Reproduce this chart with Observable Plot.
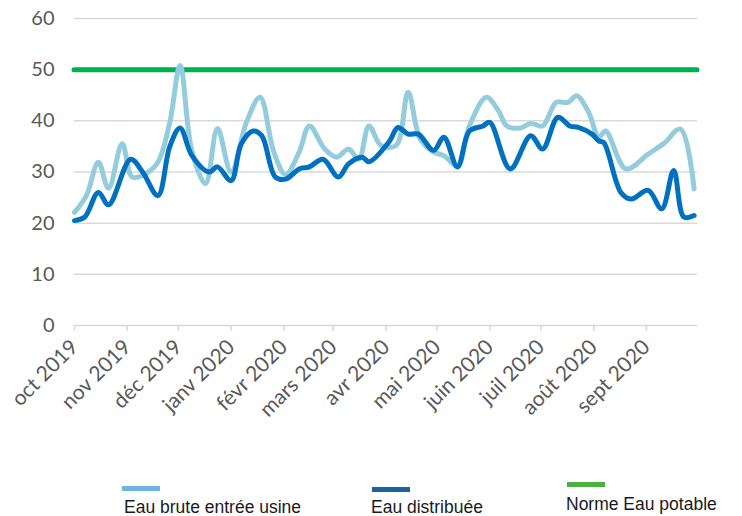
<!DOCTYPE html>
<html>
<head>
<meta charset="utf-8">
<script src="https://cdn.jsdelivr.net/npm/d3@7"></script>
<script src="https://cdn.jsdelivr.net/npm/@observablehq/plot@0.6"></script>
<style>
  html, body { margin: 0; padding: 0; background: #fff; }
  #wrap { position: relative; width: 742px; height: 516px; overflow: hidden; }
  .sw { position: absolute; height: 5px; width: 38px; }
  .lt { position: absolute; font-family: "Liberation Sans", Arial, sans-serif; font-size: 17.5px; color: #1a1a1a; white-space: nowrap; }
</style>
</head>
<body>
<div id="wrap"></div>
<script>
// Month tick labels (French)
const tickLabels = ["oct 2019", "nov 2019", "déc 2019", "janv 2020", "févr 2020", "mars 2020",
  "avr 2020", "mai 2020", "juin 2020", "juil 2020", "août 2020", "sept 2020"];
const tickDates = ["2019-10-01", "2019-11-01", "2019-12-01", "2020-01-01", "2020-02-01", "2020-03-01",
  "2020-04-01", "2020-05-01", "2020-06-01", "2020-07-01", "2020-08-01", "2020-09-01"];

// Eau brute entrée usine
const bruteDates = ["2019-10-01", "2019-10-08", "2019-10-15", "2019-10-21", "2019-10-29", "2019-11-04",
  "2019-11-12", "2019-11-19", "2019-11-26", "2019-12-02", "2019-12-09", "2019-12-17", "2019-12-24",
  "2020-01-01", "2020-01-10", "2020-01-18", "2020-01-26", "2020-02-02", "2020-02-10", "2020-02-16",
  "2020-02-25", "2020-03-03", "2020-03-10", "2020-03-16", "2020-03-22", "2020-03-29", "2020-04-07",
  "2020-04-14", "2020-04-21", "2020-04-29", "2020-05-05", "2020-05-13", "2020-05-20", "2020-05-30",
  "2020-06-06", "2020-06-11", "2020-06-19", "2020-06-25", "2020-07-02", "2020-07-10", "2020-07-17",
  "2020-07-22", "2020-07-29", "2020-08-04", "2020-08-08", "2020-08-20", "2020-09-02", "2020-09-11",
  "2020-09-21", "2020-09-29"];
const bruteValues = [22.1, 25.4, 31.9, 26.8, 35.5, 29.0,
  29.7, 31.9, 39.7, 50.8, 34.0, 27.7, 38.5,
  30.0, 39.7, 44.6, 34.0, 29.5, 33.9, 39.0,
  34.5, 32.9, 34.5, 32.5, 39.0, 35.2, 35.2,
  45.6, 36.5, 33.9, 33.2, 31.2, 39.0, 44.6,
  42.0, 39.0, 38.6, 39.5, 39.0, 43.6, 43.6,
  44.9, 41.7, 36.8, 38.0, 30.6, 33.5, 35.5,
  38.4, 26.7];

// Eau distribuée
const distDates = ["2019-10-01", "2019-10-07", "2019-10-15", "2019-10-21", "2019-11-03", "2019-11-10",
  "2019-11-19", "2019-11-26", "2019-12-02", "2019-12-09", "2019-12-19", "2019-12-24", "2020-01-01",
  "2020-01-07", "2020-01-14", "2020-01-19", "2020-01-27", "2020-02-02", "2020-02-10", "2020-02-16",
  "2020-02-24", "2020-03-04", "2020-03-10", "2020-03-18", "2020-03-22", "2020-04-03", "2020-04-08",
  "2020-04-14", "2020-04-20", "2020-04-29", "2020-05-05", "2020-05-13", "2020-05-20", "2020-05-28",
  "2020-06-01", "2020-06-13", "2020-06-25", "2020-07-02", "2020-07-11", "2020-07-18", "2020-07-23",
  "2020-07-31", "2020-08-04", "2020-08-07", "2020-08-17", "2020-08-23", "2020-09-02", "2020-09-10",
  "2020-09-17", "2020-09-23", "2020-09-29"];
const distValues = [20.5, 21.2, 26.0, 23.6, 32.5, 30.0,
  25.4, 35.0, 38.6, 33.2, 30.0, 31.0, 28.3,
  35.5, 38.0, 37.1, 29.0, 28.6, 30.6, 31.0,
  32.5, 29.0, 31.6, 32.9, 32.0, 36.0, 38.7,
  37.4, 37.4, 34.2, 36.8, 31.0, 38.0, 39.0,
  39.7, 30.6, 37.1, 34.5, 40.7, 39.0, 38.7,
  37.4, 36.1, 35.7, 26.0, 24.7, 26.4, 22.8,
  30.3, 21.2, 21.5];

// Norme Eau potable
const norme = 50;

const yTicks = [0, 10, 20, 30, 40, 50, 60];

const brute = bruteDates.map((d, i) => ({date: new Date(d), value: bruteValues[i]}));
const dist = distDates.map((d, i) => ({date: new Date(d), value: distValues[i]}));

const chart = Plot.plot({
  width: 742,
  height: 445,
  marginLeft: 74,
  marginRight: 45,
  marginTop: 18,
  marginBottom: 120,
  style: {fontFamily: "Lato, sans-serif", fontSize: "20px", color: "#595959", background: "white"},
  x: {type: "utc", domain: [new Date("2019-10-01"), new Date("2020-10-01")]},
  y: {domain: [0, 60]},
  marks: [
    Plot.gridY(yTicks.slice(1), {stroke: "#d9d9d9", strokeOpacity: 1, strokeWidth: 1.5}),
    Plot.ruleY([0], {stroke: "#d9d9d9", strokeWidth: 1.5}),
    Plot.axisY({ticks: yTicks, tickSize: 0, tickPadding: 20, label: null, fill: "#595959", fontSize: 20}),
    Plot.axisX({
      ticks: tickDates.map(d => new Date(d)),
      tickFormat: d => tickLabels[(d.getUTCMonth() + 3) % 12],
      tickRotate: -45, tickSize: 6, tickPadding: 12, stroke: "#d9d9d9", strokeWidth: 1.5,
      fill: "#595959", label: null, fontSize: 21
    }),
    Plot.ruleY([norme], {stroke: "#00b050", strokeWidth: 5, strokeLinecap: "round"}),
    Plot.line(brute, {x: "date", y: "value", stroke: "#93cddd", strokeWidth: 5, curve: "catmull-rom", strokeLinejoin: "round"}),
    Plot.line(dist, {x: "date", y: "value", stroke: "#0070c0", strokeWidth: 5, curve: "catmull-rom", strokeLinejoin: "round"})
  ]
});

const wrap = document.getElementById("wrap");
wrap.appendChild(chart);

const legend = [
  {label: "Eau brute entrée usine", color: "#6fb4dd", sx: 122, sy: 486, tx: 124, ty: 497},
  {label: "Eau distribuée", color: "#1b659c", sx: 372, sy: 487, tx: 371, ty: 497},
  {label: "Norme Eau potable", color: "#4caf3f", sx: 567, sy: 482, tx: 566, ty: 494}
];
legend.forEach(l => {
  const s = document.createElement("div");
  s.className = "sw";
  s.style.left = l.sx + "px"; s.style.top = l.sy + "px"; s.style.background = l.color;
  wrap.appendChild(s);
  const t = document.createElement("div");
  t.className = "lt";
  t.style.left = l.tx + "px"; t.style.top = l.ty + "px";
  t.textContent = l.label;
  wrap.appendChild(t);
});
</script>
</body>
</html>
